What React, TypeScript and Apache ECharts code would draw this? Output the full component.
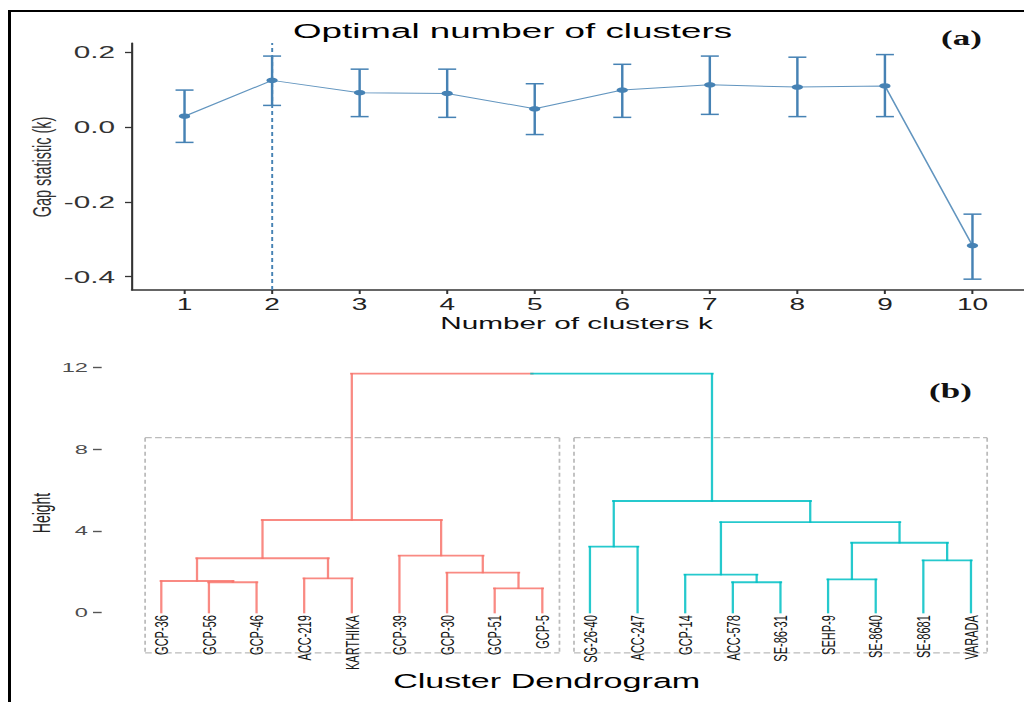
import React, { useEffect, useRef } from "react";
import * as echarts from "echarts";

// ---------- data: (a) gap statistic ----------
const kValues = [1, 2, 3, 4, 5, 6, 7, 8, 9, 10];
const gapValues = [0.029, 0.125, 0.092, 0.09, 0.049, 0.099, 0.113, 0.107, 0.11, -0.317];
const gapLower = [-0.041, 0.058, 0.028, 0.026, -0.02, 0.026, 0.034, 0.028, 0.028, -0.407];
const gapUpper = [0.099, 0.19, 0.155, 0.155, 0.116, 0.168, 0.19, 0.187, 0.194, -0.233];
const optimalK = 2;
const gapTicks = [-0.4, -0.2, 0, 0.2];

// ---------- data: (b) dendrogram ----------
const leafNames = [
  "GCP-36", "GCP-56", "GCP-46", "ACC-219", "KARTHIKA", "GCP-39", "GCP-30", "GCP-51", "GCP-5",
  "SG-26-40", "ACC-247", "GCP-14", "ACC-578", "SE-86-31", "SEHP-9", "SE-8640", "SE-8681", "VARADA",
];
const leafCluster = [0, 0, 0, 0, 0, 0, 0, 0, 0, 1, 1, 1, 1, 1, 1, 1, 1, 1];
// hclust-style merges: negative = leaf (1-based), positive = earlier merge (1-based)
const mergePairs: [number, number][] = [
  [-2, -3], [-1, 1], [-4, -5], [2, 3], [-8, -9], [-7, 5], [-6, 6], [4, 7],
  [-10, -11], [-13, -14], [-12, 10], [-15, -16], [-17, -18], [12, 13], [11, 14], [9, 15], [8, 16],
];
const mergeHeights = [1.49, 1.55, 1.68, 2.66, 1.19, 1.96, 2.79, 4.53, 3.23, 1.49, 1.86, 1.63, 2.56, 3.42, 4.43, 5.46, 11.69];
const heightTicks = [0, 4, 8, 12];
const boxTop = 8.56;
const boxBottom = -1.96;
const boxBounds = [[0.66, 9.36], [9.665, 18.34]];

// ---------- layout helpers ----------
const W = 585;
const H = 702;
const SX = 1024 / W;
const sx = (px: number) => px / SX;
const FONT = "Liberation Sans, Arial, sans-serif";
const SERIF = "Liberation Serif, Times New Roman, serif";
const STEEL = "#4682B4";
const clusterColors = ["#F8766D", "#00BFC4", "#444444"];

// build dendrogram segments from merges
type NodeT = { x: number; h: number; cl: number };
const nodes: NodeT[] = [];
const segments: number[][] = [];
const nodeOf = (r: number): NodeT =>
  r < 0 ? { x: -r, h: 0, cl: leafCluster[-r - 1] } : nodes[r - 1];
mergePairs.forEach(([a, b], i) => {
  const A = nodeOf(a);
  const B = nodeOf(b);
  const h = mergeHeights[i];
  const cl = A.cl === B.cl ? A.cl : -1;
  const ca = A.cl >= 0 ? A.cl : 2;
  const cb = B.cl >= 0 ? B.cl : 2;
  segments.push([A.x, A.h, A.x, h, ca]);
  segments.push([B.x, B.h, B.x, h, cb]);
  const mid = (A.x + B.x) / 2;
  if (cl >= 0) {
    segments.push([A.x, h, B.x, h, cl]);
  } else {
    segments.push([A.x, h, mid, h, ca]);
    segments.push([mid, h, B.x, h, cb]);
  }
  nodes.push({ x: mid, h, cl });
});

const option: any = {
  animation: false,
  backgroundColor: "#ffffff",
  grid: [
    { left: sx(132), top: 43, width: sx(1025 - 132), height: 247, outerBoundsMode: "none", containLabel: false },
    { left: sx(113.67), top: 346.85, width: sx(1018.6 - 113.67), height: 306.75, outerBoundsMode: "none", containLabel: false },
  ],
  xAxis: [
    {
      type: "value",
      gridIndex: 0,
      min: 0.4,
      max: 10.6,
      axisLine: { show: true, onZero: false, lineStyle: { color: "#333", width: 1.5 } },
      axisTick: { show: true, customValues: kValues, length: 4, lineStyle: { color: "#333", width: 1.15 } },
      axisLabel: { customValues: kValues, fontSize: 16, color: "#222", margin: 6, fontFamily: FONT },
      splitLine: { show: false },
    },
    {
      type: "value",
      gridIndex: 1,
      min: 0,
      max: 19,
      axisLine: { show: false, onZero: false },
      axisTick: { show: false },
      axisLabel: { show: false },
      splitLine: { show: false },
    },
  ],
  yAxis: [
    {
      type: "value",
      gridIndex: 0,
      min: -0.436,
      max: 0.225,
      axisLine: { show: true, onZero: false, lineStyle: { color: "#333", width: 1.2 } },
      axisTick: { show: true, customValues: gapTicks, length: 4, lineStyle: { color: "#333", width: 1.3 } },
      axisLabel: {
        customValues: gapTicks,
        formatter: (v: number) => v.toFixed(1),
        fontSize: 17,
        color: "#333",
        margin: sx(17),
        fontFamily: FONT,
      },
      splitLine: { show: false },
    },
    {
      type: "value",
      gridIndex: 1,
      min: -2,
      max: 13,
      offset: sx(12),
      axisLine: { show: false, onZero: false },
      axisTick: { show: true, customValues: heightTicks, length: sx(8.7), lineStyle: { color: "#555", width: 1.4 } },
      axisLabel: {
        customValues: heightTicks,
        fontSize: 13.5,
        color: "#4d4d4d",
        margin: sx(13.7),
        fontFamily: FONT,
      },
      splitLine: { show: false },
    },
  ],
  graphic: [
    {
      type: "text", x: sx(512.5), y: 31,
      style: { text: "Optimal number of clusters", fontSize: 21, fill: "#000", align: "center", verticalAlign: "middle", fontFamily: FONT },
    },
    {
      type: "text", x: sx(961.5), y: 38,
      style: { text: "(a)", fontSize: 20, fontWeight: "bold", fill: "#111", align: "center", verticalAlign: "middle", fontFamily: SERIF },
    },
    {
      type: "text", x: sx(41.5), y: 167, rotation: Math.PI / 2,
      style: { text: "Gap statistic (k)", fontSize: 14.5, fill: "#333", align: "center", verticalAlign: "middle", fontFamily: FONT },
    },
    {
      type: "text", x: sx(576.5), y: 323,
      style: { text: "Number of clusters k", fontSize: 17, fill: "#111", align: "center", verticalAlign: "middle", fontFamily: FONT },
    },
    {
      type: "text", x: sx(41), y: 513, rotation: Math.PI / 2,
      style: { text: "Height", fontSize: 14, fill: "#222", align: "center", verticalAlign: "middle", fontFamily: FONT },
    },
    {
      type: "text", x: sx(546.7), y: 681,
      style: { text: "Cluster Dendrogram", fontSize: 19.5, fill: "#000", align: "center", verticalAlign: "middle", fontFamily: FONT },
    },
    {
      type: "text", x: sx(950.5), y: 391.7,
      style: { text: "(b)", fontSize: 20, fontWeight: "bold", fill: "#111", align: "center", verticalAlign: "middle", fontFamily: SERIF },
    },
  ],
  series: [
    {
      type: "custom",
      name: "errorbars",
      xAxisIndex: 0,
      yAxisIndex: 0,
      data: kValues.map((k, i) => [k, gapLower[i], gapUpper[i]]),
      encode: { x: 0, y: [1, 2] },
      z: 2,
      renderItem: (params: any, api: any) => {
        const lo = api.coord([api.value(0), api.value(1)]);
        const hi = api.coord([api.value(0), api.value(2)]);
        const cw = sx(9);
        return {
          type: "group",
          children: [
            { type: "line", shape: { x1: lo[0], y1: lo[1], x2: hi[0], y2: hi[1] }, style: { stroke: STEEL, lineWidth: 1.4 } },
            { type: "line", shape: { x1: lo[0] - cw, y1: lo[1], x2: lo[0] + cw, y2: lo[1] }, style: { stroke: STEEL, lineWidth: 1.5 } },
            { type: "line", shape: { x1: hi[0] - cw, y1: hi[1], x2: hi[0] + cw, y2: hi[1] }, style: { stroke: STEEL, lineWidth: 1.5 } },
          ],
        };
      },
    },
    {
      type: "line",
      name: "gap",
      xAxisIndex: 0,
      yAxisIndex: 0,
      data: kValues.map((k, i) => [k, gapValues[i]]),
      symbol: "circle",
      symbolSize: [6.5, 5.5],
      z: 3,
      itemStyle: { color: STEEL },
      lineStyle: { color: STEEL, width: 1, opacity: 0.85 },
      markLine: {
        silent: true,
        symbol: ["none", "none"],
        label: { show: false },
        lineStyle: { type: [4, 3], color: STEEL, width: 1.1, opacity: 1 },
        data: [{ xAxis: optimalK }],
      },
    },
    {
      type: "custom",
      name: "boxes",
      xAxisIndex: 1,
      yAxisIndex: 1,
      data: boxBounds,
      z: 1,
      renderItem: (params: any, api: any) => {
        const tl = api.coord([api.value(0), boxTop]);
        const br = api.coord([api.value(1), boxBottom]);
        const hs = { stroke: "#BBBBBB", lineWidth: 1.3, lineDash: [3.8, 1.9] };
        const vs = { stroke: "#BBBBBB", lineWidth: 1, lineDash: [4, 3] };
        return {
          type: "group",
          children: [
            { type: "line", shape: { x1: tl[0], y1: tl[1], x2: br[0], y2: tl[1] }, style: hs },
            { type: "line", shape: { x1: tl[0], y1: br[1], x2: br[0], y2: br[1] }, style: hs },
            { type: "line", shape: { x1: tl[0], y1: tl[1], x2: tl[0], y2: br[1] }, style: vs },
            { type: "line", shape: { x1: br[0], y1: tl[1], x2: br[0], y2: br[1] }, style: vs },
          ],
        };
      },
    },
    {
      type: "custom",
      name: "dendrogram",
      xAxisIndex: 1,
      yAxisIndex: 1,
      data: segments,
      z: 2,
      renderItem: (params: any, api: any) => {
        const p1 = api.coord([api.value(0), api.value(1)]);
        const p2 = api.coord([api.value(2), api.value(3)]);
        const vertical = api.value(0) === api.value(2);
        return {
          type: "line",
          shape: { x1: p1[0], y1: p1[1], x2: p2[0], y2: p2[1] },
          style: {
            stroke: clusterColors[api.value(4)],
            lineWidth: vertical ? 1.3 : 1.9,
            opacity: 0.85,
            lineCap: "square",
          },
        };
      },
    },
    {
      type: "custom",
      name: "leafLabels",
      xAxisIndex: 1,
      yAxisIndex: 1,
      data: leafNames.map((_, i) => [i + 1, 0]),
      z: 3,
      renderItem: (params: any, api: any) => {
        const p = api.coord([api.value(0), api.value(1)]);
        return {
          type: "text",
          x: p[0],
          y: p[1] + 2.5,
          rotation: Math.PI / 2,
          style: {
            text: leafNames[params.dataIndex],
            fontSize: 11,
            fill: "#151515",
            align: "right",
            verticalAlign: "middle",
            fontFamily: FONT,
          },
        };
      },
    },
  ],
};

export default function App() {
  const ref = useRef<HTMLDivElement>(null);
  useEffect(() => {
    const chart = echarts.init(ref.current as HTMLDivElement, null, { renderer: "svg", width: W, height: H });
    chart.setOption(option);
    return () => chart.dispose();
  }, []);
  return (
    <div style={{ position: "fixed", left: 0, top: 0, width: 1024, height: 702, overflow: "hidden", background: "#fff" }}>
      <div
        ref={ref}
        style={{ position: "absolute", left: 0, top: 0, width: W, height: H, transform: `scaleX(${SX})`, transformOrigin: "0 0" }}
      />
      <div style={{ position: "absolute", left: 8, top: 10, width: 1016, height: 2, background: "#000" }} />
      <div style={{ position: "absolute", left: 8, top: 10, width: 3, height: 692, background: "#000" }} />
    </div>
  );
}
